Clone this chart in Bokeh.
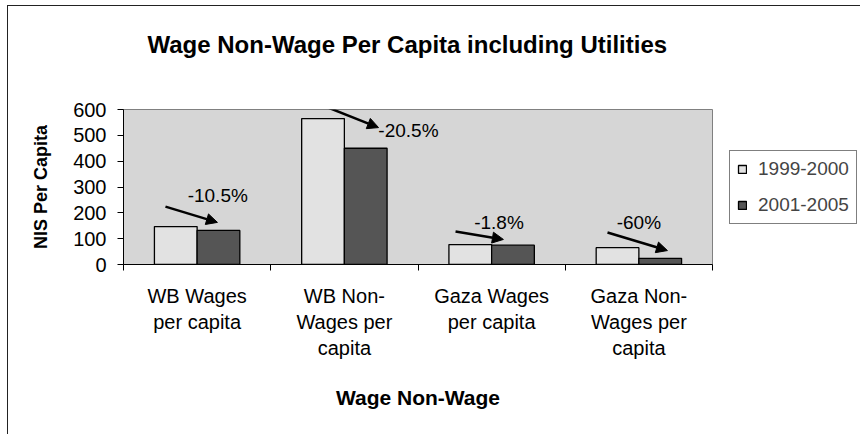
import numpy as np
from bokeh.plotting import figure
from bokeh.models import (ColumnDataSource, Range1d, FixedTicker, Legend, LegendItem,
                          Arrow, NormalHead, Title)
from bokeh.core.properties import value
from bokeh.embed import file_html
from bokeh.resources import INLINE

# ---------------- data ----------------
categories = ["WB Wages per capita", "WB Non-Wages per capita",
              "Gaza Wages per capita", "Gaza Non-Wages per capita"]
category_labels = ["WB Wages\nper capita", "WB Non-\nWages per\ncapita",
                   "Gaza Wages\nper capita", "Gaza Non-\nWages per\ncapita"]
series_names = ["1999-2000", "2001-2005"]
values_1999_2000 = [147, 565, 77, 65]
values_2001_2005 = [132, 450, 75, 24]
y_ticks = [0, 100, 200, 300, 400, 500, 600]
change_labels = ["-10.5%", "-20.5%", "-1.8%", "-60%"]
chart_title = "Wage Non-Wage Per Capita including Utilities"

# annotation placement (offsets from category centre, data units)
label_dx = [0.14, 0.435, 0.05, 0.0]
label_y = [267, 519, 163, 163]
arrow_dx0 = [-0.215, -0.162, -0.245, -0.213]
arrow_y0 = [224, 619, 128, 124]
arrow_dx1 = [0.138, 0.232, 0.080, 0.194]
arrow_y1 = [163, 530, 97, 54]

FONT = "Liberation Sans"

centers = np.arange(len(categories)) + 0.5
bar_w = 0.29
off = 0.145

p = figure(frame_width=589, frame_height=155,
           min_border_left=115, min_border_right=148,
           min_border_top=103, min_border_bottom=170,
           x_range=Range1d(0, len(categories)), y_range=Range1d(0, 600),
           output_backend="svg", toolbar_location=None, title=None)
p.styles = {"border-left": "1px solid #222", "border-top": "1px solid #222",
            "margin-left": "7px", "margin-top": "5px"}

p.background_fill_color = "#d6d6d6"
p.border_fill_color = "white"
p.outline_line_color = "#808080"
p.xgrid.visible = False
p.ygrid.visible = False

src_a = ColumnDataSource(dict(x=centers - off, top=values_1999_2000))
src_b = ColumnDataSource(dict(x=centers + off, top=values_2001_2005))
ra = p.vbar(x="x", top="top", width=bar_w, source=src_a,
            fill_color="#e2e2e2", line_color="black", line_width=1.3)
rb = p.vbar(x="x", top="top", width=bar_w, source=src_b,
            fill_color="#555555", line_color="black", line_width=1.3)

# change labels
lab_src = ColumnDataSource(dict(x=centers + np.array(label_dx), y=label_y, t=change_labels))
p.text(x="x", y="y", text="t", source=lab_src, text_font=value(FONT),
       text_font_size="19px", text_align="center", text_baseline="middle",
       text_color="black")

# arrows
arr_src = ColumnDataSource(dict(x0=centers + np.array(arrow_dx0), y0=arrow_y0,
                                x1=centers + np.array(arrow_dx1), y1=arrow_y1))
p.add_layout(Arrow(source=arr_src, x_start="x0", y_start="y0", x_end="x1", y_end="y1",
                   line_width=2.5, line_color="black",
                   end=NormalHead(size=11, fill_color="black", line_color="black")))

# title (spacer first so the title sits higher above the frame)
p.add_layout(Title(text=" ", text_font_size="2px", standoff=43), "above")
p.add_layout(Title(text=chart_title, text_font=FONT, text_font_size="24px",
                   text_font_style="bold", text_color="black",
                   align="left", offset=24, standoff=10), "above")

# x axis
xa = p.xaxis[0]
xa.ticker = FixedTicker(ticks=list(centers), minor_ticks=list(range(len(categories) + 1)))
xa.major_label_overrides = {float(c): lab for c, lab in zip(centers, category_labels)}
xa.major_tick_in = 0
xa.major_tick_out = 0
xa.minor_tick_in = 0
xa.minor_tick_out = 6
xa.minor_tick_line_color = "black"
xa.axis_line_color = "black"
xa.major_label_text_font = FONT
xa.major_label_text_font_size = "20px"
xa.major_label_text_color = "black"
xa.major_label_standoff = 14
xa.axis_label = "Wage Non-Wage"
xa.axis_label_text_font = FONT
xa.axis_label_text_font_size = "21px"
xa.axis_label_text_font_style = "bold"
xa.axis_label_text_color = "black"
xa.axis_label_standoff = 24

# y axis
ya = p.yaxis[0]
ya.ticker = FixedTicker(ticks=y_ticks)
ya.major_tick_in = 0
ya.major_tick_out = 6
ya.minor_tick_line_color = None
ya.axis_line_color = "black"
ya.major_label_text_font = FONT
ya.major_label_text_font_size = "20px"
ya.major_label_text_color = "black"
ya.major_label_standoff = 11
ya.axis_label = "NIS Per Capita"
ya.axis_label_text_font = FONT
ya.axis_label_text_font_size = "18px"
ya.axis_label_text_font_style = "bold"
ya.axis_label_text_color = "black"
ya.axis_label_standoff = 19

legend = Legend(items=[LegendItem(label=series_names[0], renderers=[ra]),
                       LegendItem(label=series_names[1], renderers=[rb])],
                location="center_left", orientation="vertical",
                border_line_color="black", border_line_width=1,
                background_fill_color="white", background_fill_alpha=1,
                label_text_font=FONT, label_text_font_size="19px",
                label_height=22, glyph_width=10, glyph_height=10, label_standoff=11,
                padding=7, spacing=14, margin=17)
p.add_layout(legend, "right")

open("out.html", "w").write(file_html(p, INLINE))
